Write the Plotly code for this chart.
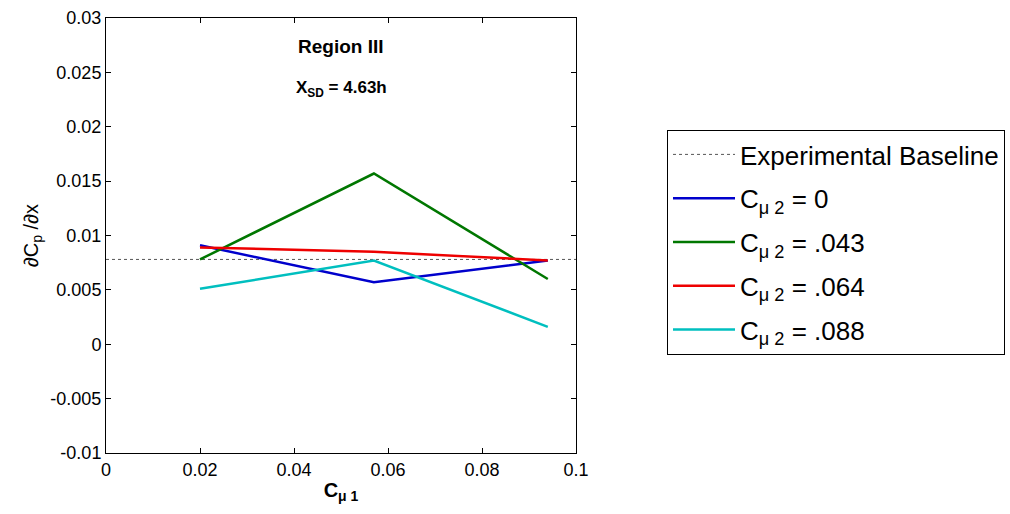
import plotly.graph_objects as go

x_vals = [0.02, 0.057, 0.094]
baseline_x = [0, 0.1]
baseline_y = [0.0078, 0.0078]
cmu2_0 = [0.0091, 0.0057, 0.0077]
cmu2_043 = [0.0078, 0.0157, 0.0060]
cmu2_064 = [0.0089, 0.0085, 0.0077]
cmu2_088 = [0.0051, 0.0077, 0.0016]

names = ["C<sub>μ 2</sub> = 0", "C<sub>μ 2</sub> = .043", "C<sub>μ 2</sub> = .064", "C<sub>μ 2</sub> = .088"]
colors = ["#0000CC", "#007700", "#EE0000", "#00BFBF"]
series = [cmu2_0, cmu2_043, cmu2_064, cmu2_088]

fig = go.Figure()
fig.add_trace(go.Scatter(x=baseline_x, y=baseline_y, mode="lines", name="Experimental Baseline",
                         legendgroup="g0", line=dict(color="#555555", width=1, dash="dot")))
for i, (nm, c, s) in enumerate(zip(names, colors, series)):
    fig.add_trace(go.Scatter(x=x_vals, y=s, mode="lines", name=nm, legendgroup=f"g{i+1}",
                             line=dict(color=c, width=2.5)))

font = "Liberation Sans, Arial, sans-serif"
axis_common = dict(showline=True, linecolor="black", linewidth=1, mirror="ticks", ticks="inside",
                   ticklen=5, tickcolor="black", showgrid=False, zeroline=False, automargin=False,
                   tickfont=dict(family=font, size=18, color="black"))
fig.update_layout(
    width=1010, height=514,
    margin=dict(l=106, r=434, t=18, b=61, autoexpand=False),
    plot_bgcolor="white", paper_bgcolor="white",
    font=dict(family=font, color="black"),
    xaxis=dict(range=[0, 0.1], tickvals=[0, 0.02, 0.04, 0.06, 0.08, 0.1],
               ticktext=["0", "0.02", "0.04", "0.06", "0.08", "0.1"],
               title=dict(text="<b>C<sub>μ 1</sub></b>", font=dict(size=20), standoff=4), **axis_common),
    yaxis=dict(range=[-0.01, 0.03], tickvals=[-0.01, -0.005, 0, 0.005, 0.01, 0.015, 0.02, 0.025, 0.03],
               ticktext=["-0.01", "-0.005", "0", "0.005", "0.01", "0.015", "0.02", "0.025", "0.03"],
               title=dict(text="∂C<sub>p</sub> /∂x", font=dict(size=20), standoff=6), **axis_common),
    legend=dict(x=667 / 1010, y=1 - 130 / 514, xref="container", yref="container",
                xanchor="left", yanchor="top",
                bordercolor="black", borderwidth=1,
                bgcolor="white", font=dict(family=font, size=26, color="black"), tracegroupgap=7,
                itemwidth=62),
    showlegend=True,
)
fig.add_annotation(x=0.05, y=0.0274, xref="x", yref="y", text="<b>Region III</b>", showarrow=False,
                   font=dict(family=font, size=19, color="black"))
fig.add_annotation(x=0.05, y=0.0235, xref="x", yref="y", text="<b>X<sub>SD</sub> = 4.63h</b>", showarrow=False,
                   font=dict(family=font, size=17, color="black"))

fig.write_html("out.html", post_script="document.body.style.margin='0px';",
               config={"displayModeBar": False})
